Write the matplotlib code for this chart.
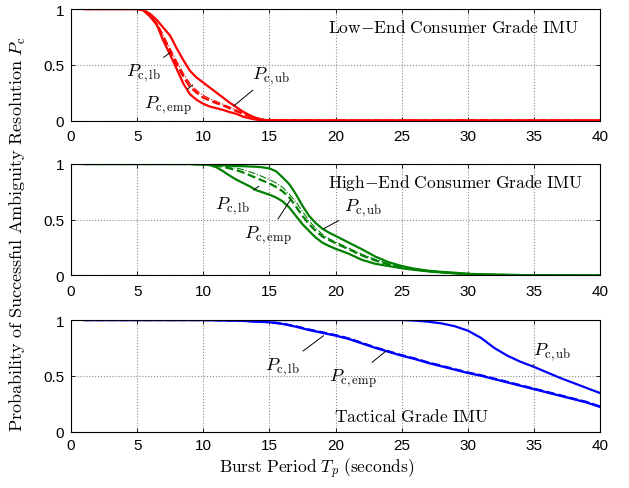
import numpy as np
import matplotlib.pyplot as plt

plt.rcParams['mathtext.fontset'] = 'cm'
plt.rcParams['font.family'] = 'Liberation Sans'

# Low-end consumer grade IMU
x_low = [1, 2, 3, 4, 5, 5.5, 6, 6.5, 7, 7.5, 8, 8.5, 9, 9.5, 10, 10.5, 11, 11.5,
         12, 12.5, 13, 13.5, 14, 14.5, 15, 20, 25, 30, 35, 40]
low_ub = [1, 1, 1, 1, 1, 0.99, 0.955, 0.9, 0.83, 0.76, 0.645, 0.54, 0.445, 0.385,
          0.34, 0.295, 0.25, 0.205, 0.16, 0.12, 0.08, 0.048, 0.022, 0.007, 0.001,
          0, 0, 0, 0, 0]
low_lb = [1, 1, 1, 1, 1, 0.985, 0.93, 0.855, 0.71, 0.59, 0.46, 0.33, 0.235, 0.185,
          0.15, 0.125, 0.11, 0.095, 0.075, 0.06, 0.035, 0.02, 0.008, 0.003, 0,
          0, 0, 0, 0, 0]
low_emp = [1, 1, 1, 1, 1, 0.99, 0.935, 0.865, 0.74, 0.62, 0.5, 0.395, 0.3, 0.25,
           0.205, 0.18, 0.155, 0.135, 0.11, 0.085, 0.06, 0.04, 0.02, 0.007, 0.001,
           0, 0, 0, 0, 0]
low_sim = [1, 1, 1, 1, 1, 0.99, 0.94, 0.87, 0.76, 0.645, 0.53, 0.42, 0.33, 0.27,
           0.225, 0.195, 0.17, 0.145, 0.12, 0.095, 0.068, 0.045, 0.025, 0.01, 0.002,
           0, 0, 0, 0, 0]

# High-end consumer grade IMU
x_high = [1, 5, 9, 10, 10.5, 11, 11.5, 12, 12.5, 13, 13.5, 14, 14.5, 15, 15.5, 16,
          16.5, 17, 17.5, 18, 18.5, 19, 19.5, 20, 21, 22, 23, 24, 25, 26, 27, 28,
          29, 30, 32, 35, 40]
high_ub = [1, 1, 1, 0.995, 0.993, 0.99, 0.988, 0.985, 0.982, 0.98, 0.978, 0.975,
           0.97, 0.96, 0.935, 0.88, 0.82, 0.73, 0.625, 0.535, 0.47, 0.42, 0.385,
           0.355, 0.295, 0.235, 0.17, 0.12, 0.085, 0.06, 0.043, 0.032, 0.025,
           0.015, 0.007, 0.002, 0]
high_lb = [1, 1, 1, 0.995, 0.99, 0.97, 0.935, 0.895, 0.86, 0.83, 0.8, 0.765,
           0.745, 0.725, 0.7, 0.665, 0.61, 0.535, 0.46, 0.4, 0.34, 0.295, 0.265,
           0.24, 0.195, 0.14, 0.105, 0.085, 0.065, 0.05, 0.037, 0.027, 0.02,
           0.013, 0.006, 0.002, 0]
high_emp = [1, 1, 1, 0.995, 0.99, 0.985, 0.975, 0.96, 0.945, 0.925, 0.9, 0.875,
            0.85, 0.825, 0.795, 0.755, 0.7, 0.62, 0.535, 0.46, 0.4, 0.35, 0.32,
            0.29, 0.235, 0.18, 0.135, 0.1, 0.075, 0.055, 0.04, 0.03, 0.02,
            0.013, 0.006, 0.002, 0]
high_sim = [1, 1, 1, 0.997, 0.993, 0.99, 0.983, 0.975, 0.963, 0.95, 0.93, 0.91,
            0.885, 0.86, 0.83, 0.79, 0.73, 0.66, 0.575, 0.49, 0.425, 0.37, 0.33,
            0.3, 0.245, 0.19, 0.145, 0.105, 0.078, 0.058, 0.042, 0.03, 0.021,
            0.014, 0.006, 0.002, 0]

# Tactical grade IMU
x_tac = list(range(1, 41))
tac_ub = [1] * 25 + [0.995, 0.985, 0.97, 0.945, 0.905, 0.84, 0.75, 0.68, 0.625,
                     0.58, 0.53, 0.48, 0.435, 0.39, 0.345]
tac_lb = [1] * 10 + [0.998, 0.995, 0.992, 0.985, 0.98, 0.965, 0.94, 0.91, 0.885,
                     0.86, 0.83, 0.79, 0.75, 0.715, 0.68, 0.65, 0.615, 0.585,
                     0.555, 0.525, 0.5, 0.47, 0.44, 0.41, 0.38, 0.35, 0.32, 0.29,
                     0.26, 0.22]
tac_emp = [1] * 10 + [0.998, 0.996, 0.993, 0.987, 0.982, 0.968, 0.944, 0.915,
                      0.89, 0.865, 0.835, 0.795, 0.755, 0.72, 0.685, 0.655, 0.62,
                      0.59, 0.56, 0.53, 0.505, 0.475, 0.445, 0.415, 0.385, 0.355,
                      0.325, 0.295, 0.265, 0.225]

panels = [
    dict(x=x_low, ub=low_ub, lb=low_lb, emp=low_emp, sim=low_sim, color='red',
         pos=[0.1129, 0.7515, 0.841, 0.228],
         title=r'$\mathrm{Low}{-}\mathrm{End\ Consumer\ Grade\ IMU}$', title_xy=(28.9, 0.84),
         ann=[((5.45, 0.43), (7.5, 0.61), 'lb'), ((7.35, 0.14), (9.2, 0.32), 'emp'),
              ((15.15, 0.41), (12.3, 0.13), 'ub')]),
    dict(x=x_high, ub=high_ub, lb=high_lb, emp=high_emp, sim=high_sim, color='green',
         pos=[0.1129, 0.4346, 0.841, 0.228],
         title=r'$\mathrm{High}{-}\mathrm{End\ Consumer\ Grade\ IMU}$', title_xy=(29.1, 0.84),
         ann=[((12.2, 0.63), (14.2, 0.8), 'lb'), ((14.85, 0.36), (16.6, 0.68), 'emp'),
              ((22.1, 0.61), (19.1, 0.42), 'ub')]),
    dict(x=x_tac, ub=tac_ub, lb=tac_lb, emp=tac_emp, sim=tac_emp, color='blue',
         pos=[0.1129, 0.1155, 0.841, 0.228],
         title=r'$\mathrm{Tactical\ Grade\ IMU}$', title_xy=(25.75, 0.145),
         ann=[((16.0, 0.585), (19.1, 0.86), 'lb'), ((21.3, 0.48), (23.8, 0.72), 'emp'),
              ((36.4, 0.72), (34.9, 0.59), 'ub')]),
]

fig = plt.figure(figsize=(6.29, 4.89), dpi=100)

for i, p in enumerate(panels):
    ax = fig.add_axes(p['pos'])
    c = p['color']
    ax.plot(p['x'], p['ub'], color=c, lw=1.6)
    ax.plot(p['x'], p['lb'], color=c, lw=1.6)
    ax.plot(p['x'], p['sim'], color=c, lw=0.8, ls='-.')
    ax.plot(p['x'], p['emp'], color=c, lw=1.6, ls='--')
    ax.set_xlim(0, 40)
    ax.set_ylim(0, 1)
    ax.set_xticks(range(0, 41, 5))
    ax.set_yticks([0, 0.5, 1])
    ax.set_yticklabels(['0', '0.5', '1'])
    ax.tick_params(direction='in', top=True, right=True, length=3, labelsize=11,
                   width=0.6)
    ax.tick_params(axis='x', pad=5 if i == 2 else 6)
    ax.tick_params(axis='y', pad=5)
    ax.grid(True, ls=':', color='0.55', lw=0.8)
    for s in ax.spines.values():
        s.set_linewidth(0.8)
    ax.text(*p['title_xy'], p['title'], fontsize=12.5, ha='center', va='center')
    for txt, pt, kind in p['ann']:
        ax.annotate(r'$P_{\mathrm{c,' + kind + '}}$', xy=pt, xytext=txt,
                    fontsize=13, ha='center', va='center',
                    arrowprops=dict(arrowstyle='-', lw=0.7, color='black',
                                    shrinkA=2, shrinkB=0))

fig.text(0.029, 0.52,
         r'$\mathrm{Probability\ of\ Successful\ Ambiguity\ Resolution}\ P_{\mathrm{c}}$',
         rotation=90, ha='center', va='center', fontsize=13)
fig.text(0.504, 0.0655, r'$\mathrm{Burst\ Period}\ T_p\ \mathrm{(seconds)}$',
         ha='center', va='top', fontsize=12.5)

fig.savefig('out.png', dpi=100)
